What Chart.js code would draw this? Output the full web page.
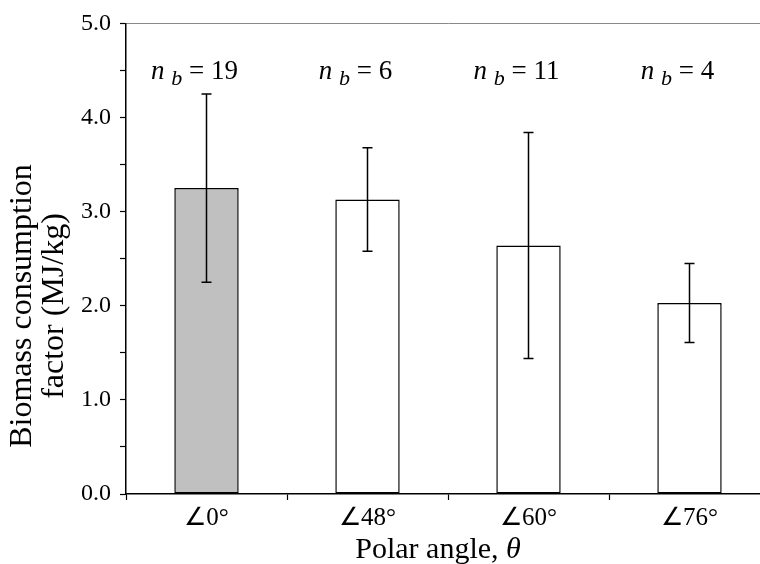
<!DOCTYPE html>
<html>
<head>
<meta charset="utf-8">
<script src="https://cdn.jsdelivr.net/npm/chart.js@4"></script>
<style>
  html, body { margin: 0; padding: 0; background: #fff; }
  #wrap { width: 760px; height: 564px; overflow: hidden; }
  canvas { display: block; }
</style>
</head>
<body>
<div id="wrap"><canvas id="chart" width="770" height="564"></canvas></div>
<script>
const categories = ['\u22200\u00b0', '\u222048\u00b0', '\u222060\u00b0', '\u222076\u00b0'];
const consumption = [3.25, 3.13, 2.64, 2.03];
const errors = [1.0, 0.55, 1.2, 0.42];
const sampleCounts = [19, 6, 11, 4];
const yTicks = [0, 1, 2, 3, 4, 5];

const SERIF = '"Liberation Serif", "Times New Roman", serif';

// error bars + n_b labels + axis titles
const extras = {
    id: 'extras',
    afterDatasetsDraw(chart) {
        const ctx = chart.ctx;
        const x = chart.scales.x, y = chart.scales.y;
        ctx.save();
        ctx.strokeStyle = '#000';
        ctx.lineWidth = 1.5;
        consumption.forEach((v, i) => {
            const cx = x.getPixelForValue(i);
            const top = y.getPixelForValue(v + errors[i]);
            const bot = y.getPixelForValue(v - errors[i]);
            ctx.beginPath();
            ctx.moveTo(cx, top); ctx.lineTo(cx, bot);
            ctx.moveTo(cx - 5, top); ctx.lineTo(cx + 5, top);
            ctx.moveTo(cx - 5, bot); ctx.lineTo(cx + 5, bot);
            ctx.stroke();
        });
        ctx.restore();
    },
    afterDraw(chart) {
        const ctx = chart.ctx;
        const x = chart.scales.x;
        const area = chart.chartArea;
        ctx.save();
        ctx.fillStyle = '#000';
        ctx.textBaseline = 'alphabetic';

        // n_b annotations
        sampleCounts.forEach((n, i) => {
            const parts = [
                { t: 'n', f: 'italic 27px ' + SERIF, dy: 0 },
                { t: ' ', f: '27px ' + SERIF, dy: 0 },
                { t: 'b', f: 'italic 22px ' + SERIF, dy: 6 },
                { t: ' = ' + n, f: '27px ' + SERIF, dy: 0 }
            ];
            let w = 0;
            parts.forEach(p => { ctx.font = p.f; w += ctx.measureText(p.t).width; });
            let px = x.getPixelForValue(i) - 12 - w / 2;
            parts.forEach(p => {
                ctx.font = p.f;
                ctx.fillText(p.t, px, 79 + p.dy);
                px += ctx.measureText(p.t).width;
            });
        });

        // x title
        const xt = [
            { t: 'Polar angle, ', f: '30px ' + SERIF },
            { t: '\u03b8', f: 'italic 30px ' + SERIF }
        ];
        let tw = 0;
        xt.forEach(p => { ctx.font = p.f; tw += ctx.measureText(p.t).width; });
        let tx = (area.left + area.right) / 2 - 10 - tw / 2;
        xt.forEach(p => {
            ctx.font = p.f;
            ctx.fillText(p.t, tx, 558);
            tx += ctx.measureText(p.t).width;
        });

        // y title
        ctx.translate(0, 306);
        ctx.rotate(-Math.PI / 2);
        ctx.textAlign = 'center';
        ctx.font = '32px ' + SERIF;
        ctx.fillText('Biomass consumption', 0, 31);
        ctx.fillText('factor (MJ/kg)', 0, 63);
        ctx.restore();
    }
};

new Chart(document.getElementById('chart'), {
    type: 'bar',
    data: {
        labels: categories,
        datasets: [{
            data: consumption,
            backgroundColor: ['#c0c0c0', '#ffffff', '#ffffff', '#ffffff'],
            borderColor: '#000',
            borderWidth: 1.5,
            borderSkipped: false,
            barPercentage: 0.4,
            categoryPercentage: 1.0
        }]
    },
    options: {
        responsive: false,
        animation: false,
        layout: { padding: { top: 22, left: 0, right: 0, bottom: 0 } },
        plugins: { legend: { display: false }, tooltip: { enabled: false } },
        scales: {
            x: {
                grid: {
                    offset: true,
                    color: 'transparent',
                    tickColor: '#000',
                    tickLength: 6,
                    tickWidth: 1.2
                },
                border: { display: true, color: '#000', width: 1.5 },
                ticks: { color: '#000', font: { family: SERIF, size: 25 }, padding: 3 },
                afterFit: s => { s.height = 70; }
            },
            y: {
                min: 0,
                max: 5,
                grid: {
                    color: c => (c.tick && c.tick.value === yTicks[yTicks.length - 1]) ? '#888' : 'transparent',
                    tickColor: '#000',
                    tickLength: 6,
                    tickWidth: 1.2
                },
                border: { display: true, color: '#000', width: 1.5 },
                ticks: {
                    stepSize: 0.5,
                    color: '#000',
                    font: { family: SERIF, size: 24 },
                    padding: 9,
                    callback: v => yTicks.includes(v) ? v.toFixed(1) : ''
                },
                afterFit: s => { s.width = 126; }
            }
        }
    },
    plugins: [extras]
});
</script>
</body>
</html>
